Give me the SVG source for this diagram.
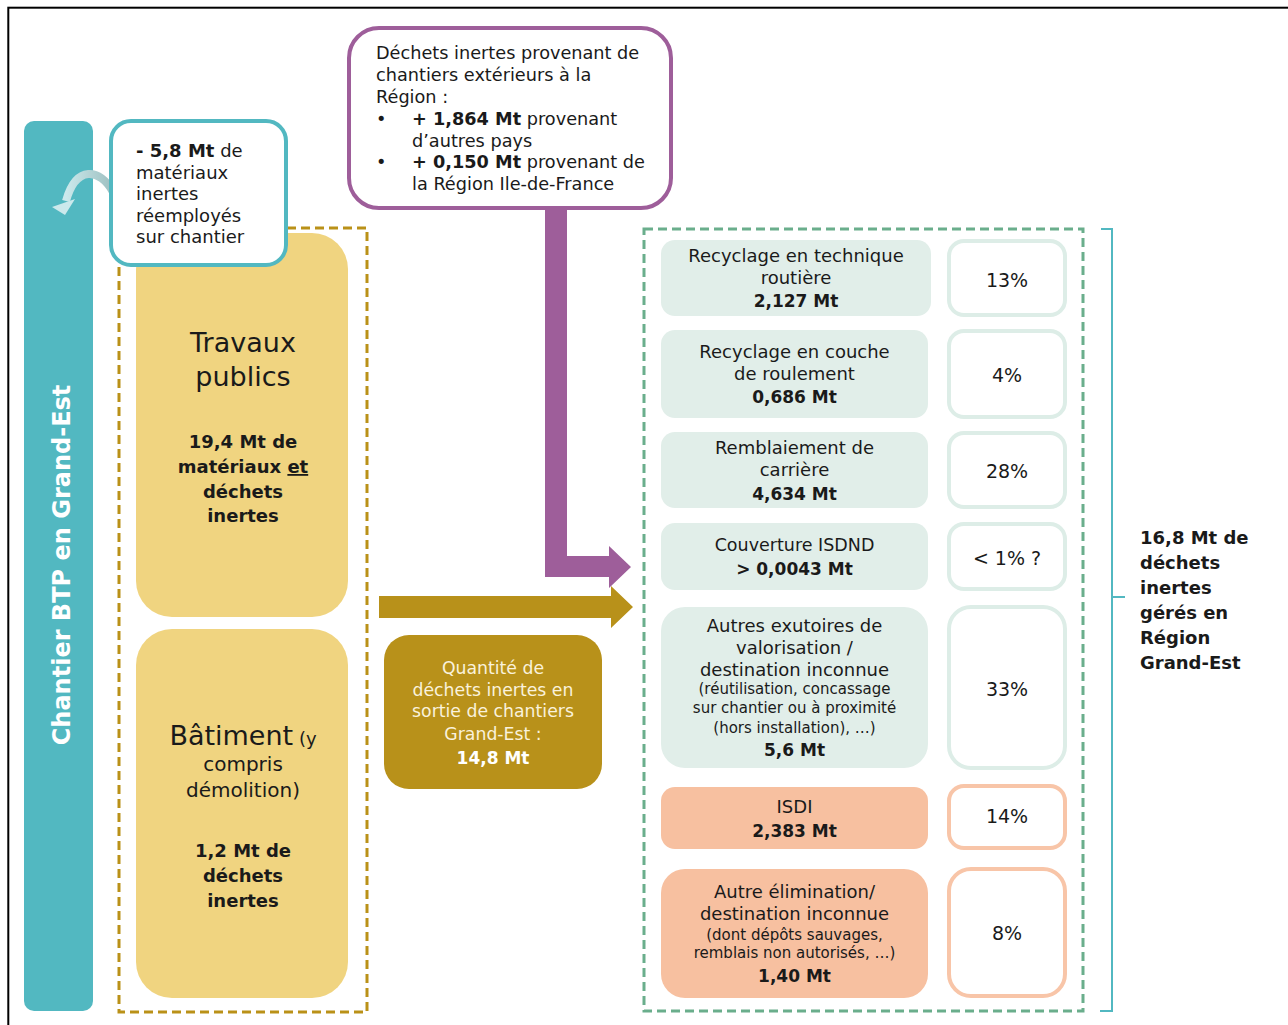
<svg xmlns="http://www.w3.org/2000/svg" width="1288" height="1025" viewBox="0 0 1288 1025">
<defs>
<style>
text{font-family:"DejaVu Sans","Liberation Sans",sans-serif;fill:#1a1a1a}
.r{font-size:18px}
.s{font-size:15px}
.b{font-size:17px;font-weight:bold}
.c{text-anchor:middle}
.pct{font-size:19px;text-anchor:middle}
.gfill{fill:#E1EEE9}
.gbox{fill:#fff;stroke:#DDEDE7;stroke-width:4}
.sfill{fill:#F7C0A0}
.sbox{fill:#fff;stroke:#F8C5A8;stroke-width:4}
.yel{fill:#F0D480}
</style>
<linearGradient id="cg" x1="1" y1="0" x2="0" y2="0">
<stop offset="0" stop-color="#9DBFC0"/>
<stop offset="1" stop-color="#CBE9EC"/>
</linearGradient>
</defs>
<rect width="1288" height="1025" fill="#fff"/>
<rect x="8.3" y="7.7" width="1300" height="1040" fill="none" stroke="#000" stroke-width="2"/>

<g id="chantier-bar">
<rect x="24" y="121" width="69" height="890" rx="10" fill="#52B8C1"/>
<text transform="translate(70,565) rotate(-90)" text-anchor="middle" style="font-size:24px;font-weight:bold;fill:#fff">Chantier BTP en Grand-Est</text>
</g>

<g id="connectors">
<path d="M545,207 L567,207 L567,556 L609,556 L609,546 L631,567 L609,588 L609,577 L545,577 Z" fill="#9E5E9A"/>
<path d="M379,596 L611,596 L611,586 L633,607 L611,628 L611,618 L379,618 Z" fill="#B8911A"/>
<path d="M113,192 C100,168 76,165 66,201" fill="none" stroke="url(#cg)" stroke-width="8"/>
<polygon points="52,207 75,199 65,215" fill="#CBE9EC"/>
<path d="M1101,229 L1112,229 L1112,597 L1125,597 M1112,597 L1112,1011 L1100,1011" fill="none" stroke="#52B8C1" stroke-width="2"/>
</g>

<g id="groupe-btp">
<rect x="119" y="228" width="248" height="784" fill="none" stroke="#BA9118" stroke-width="3" stroke-dasharray="9,5"/>
</g>

<g id="travaux-publics">
<rect x="136" y="233" width="212" height="384" rx="36" class="yel"/>
<text class="c" x="243" y="352" style="font-size:27px">Travaux</text>
<text class="c" x="243" y="386" style="font-size:27px">publics</text>
<text class="c" style="font-size:18px;font-weight:bold"><tspan x="243" y="448">19,4 Mt de</tspan><tspan x="243" y="473">matériaux <tspan text-decoration="underline">et</tspan></tspan><tspan x="243" y="498">déchets</tspan><tspan x="243" y="522">inertes</tspan></text>
</g>

<g id="reemploi">
<rect x="111" y="121" width="175" height="144" rx="20" fill="#fff" stroke="#52B8C1" stroke-width="4"/>
<text class="r"><tspan x="136" y="157"><tspan font-weight="bold">- 5,8 Mt</tspan> de</tspan><tspan x="136" y="179">matériaux</tspan><tspan x="136" y="200">inertes</tspan><tspan x="136" y="222">réemployés</tspan><tspan x="136" y="243">sur chantier</tspan></text>
</g>

<g id="batiment">
<rect x="136" y="629" width="212" height="369" rx="36" class="yel"/>
<text class="c" x="243" y="745"><tspan style="font-size:27px">Bâtiment</tspan><tspan style="font-size:18px"> (y</tspan></text>
<text class="c" x="243" y="771" style="font-size:20px">compris</text>
<text class="c" x="243" y="797" style="font-size:20px">démolition)</text>
<text class="c" style="font-size:18px;font-weight:bold"><tspan x="243" y="857">1,2 Mt de</tspan><tspan x="243" y="882">déchets</tspan><tspan x="243" y="907">inertes</tspan></text>
</g>

<g id="exterieurs">
<rect x="349" y="28" width="322" height="180" rx="30" fill="#fff" stroke="#9E5E9A" stroke-width="4"/>
<text style="font-size:17.7px"><tspan x="376" y="59">Déchets inertes provenant de</tspan><tspan x="376" y="81">chantiers extérieurs à la</tspan><tspan x="376" y="103">Région :</tspan></text>
<text style="font-size:17.7px"><tspan x="376" y="125">•</tspan><tspan x="412" y="125"><tspan font-weight="bold">+ 1,864 Mt</tspan> provenant</tspan><tspan x="412" y="147">d’autres pays</tspan><tspan x="376" y="168">•</tspan><tspan x="412" y="168"><tspan font-weight="bold">+ 0,150 Mt</tspan> provenant de</tspan><tspan x="412" y="190">la Région Ile-de-France</tspan></text>
</g>

<g id="sortie-chantiers">
<rect x="384" y="635" width="218" height="154" rx="25" fill="#B8911A"/>
<text class="c" style="font-size:17.3px;fill:#FAF2DC"><tspan x="493" y="674">Quantité de</tspan><tspan x="493" y="696">déchets inertes en</tspan><tspan x="493" y="717">sortie de chantiers</tspan><tspan x="493" y="740">Grand-Est :</tspan></text>
<text class="c b" x="493" y="764" style="fill:#fff">14,8 Mt</text>
</g>

<g id="gestion">
<rect x="644" y="229" width="439" height="782" fill="none" stroke="#6AAE8C" stroke-width="3" stroke-dasharray="9,5"/>
</g>

<g id="recyclage-routiere">
<rect x="661" y="240" width="270" height="76" rx="14" class="gfill"/>
<text class="c r"><tspan x="796" y="262">Recyclage en technique</tspan><tspan x="796" y="284">routière</tspan></text>
<text class="c b" x="796" y="307">2,127 Mt</text>
<rect x="949" y="241" width="116" height="74" rx="15" class="gbox"/>
<text class="pct" x="1007" y="287">13%</text>
</g>

<g id="recyclage-couche">
<rect x="661" y="330" width="267" height="88" rx="14" class="gfill"/>
<text class="c r"><tspan x="794.5" y="358">Recyclage en couche</tspan><tspan x="794.5" y="380">de roulement</tspan></text>
<text class="c b" x="794.5" y="403">0,686 Mt</text>
<rect x="949" y="331" width="116" height="86" rx="15" class="gbox"/>
<text class="pct" x="1007" y="382">4%</text>
</g>

<g id="remblaiement">
<rect x="661" y="432" width="267" height="76" rx="14" class="gfill"/>
<text class="c r"><tspan x="794.5" y="454">Remblaiement de</tspan><tspan x="794.5" y="476">carrière</tspan></text>
<text class="c b" x="794.5" y="500">4,634 Mt</text>
<rect x="949" y="433" width="116" height="74" rx="15" class="gbox"/>
<text class="pct" x="1007" y="478">28%</text>
</g>

<g id="couverture-isdnd">
<rect x="661" y="523" width="267" height="67" rx="14" class="gfill"/>
<text class="c" x="794.5" y="551" style="font-size:17.5px">Couverture ISDND</text>
<text class="c b" x="794.5" y="575">&gt; 0,0043 Mt</text>
<rect x="949" y="524" width="116" height="65" rx="15" class="gbox"/>
<text class="pct" x="1007" y="565">&lt; 1% ?</text>
</g>

<g id="autres-exutoires">
<rect x="661" y="607" width="267" height="161" rx="24" class="gfill"/>
<text class="c r"><tspan x="794.5" y="632">Autres exutoires de</tspan><tspan x="794.5" y="654">valorisation /</tspan><tspan x="794.5" y="676">destination inconnue</tspan></text>
<text class="c s"><tspan x="794.5" y="694">(réutilisation, concassage</tspan><tspan x="794.5" y="713">sur chantier ou à proximité</tspan><tspan x="794.5" y="733">(hors installation), …)</tspan></text>
<text class="c b" x="794.5" y="756">5,6 Mt</text>
<rect x="949" y="607" width="116" height="161" rx="22" class="gbox"/>
<text class="pct" x="1007" y="696">33%</text>
</g>

<g id="isdi">
<rect x="661" y="787" width="267" height="62" rx="14" class="sfill"/>
<text class="c r" x="794.5" y="813">ISDI</text>
<text class="c b" x="794.5" y="837">2,383 Mt</text>
<rect x="949" y="786" width="116" height="62" rx="15" class="sbox"/>
<text class="pct" x="1007" y="823">14%</text>
</g>

<g id="autre-elimination">
<rect x="661" y="869" width="267" height="129" rx="24" class="sfill"/>
<text class="c r"><tspan x="794.5" y="898">Autre élimination/</tspan><tspan x="794.5" y="920">destination inconnue</tspan></text>
<text class="c s"><tspan x="794.5" y="940">(dont dépôts sauvages,</tspan><tspan x="794.5" y="958">remblais non autorisés, …)</tspan></text>
<text class="c b" x="794.5" y="982">1,40 Mt</text>
<rect x="949" y="869" width="116" height="127" rx="22" class="sbox"/>
<text class="pct" x="1007" y="940">8%</text>
</g>

<g id="total-region">
<text style="font-size:18px;font-weight:bold"><tspan x="1140" y="544">16,8 Mt de</tspan><tspan x="1140" y="569">déchets</tspan><tspan x="1140" y="594">inertes</tspan><tspan x="1140" y="619">gérés en</tspan><tspan x="1140" y="644">Région</tspan><tspan x="1140" y="669">Grand-Est</tspan></text>
</g>
</svg>
